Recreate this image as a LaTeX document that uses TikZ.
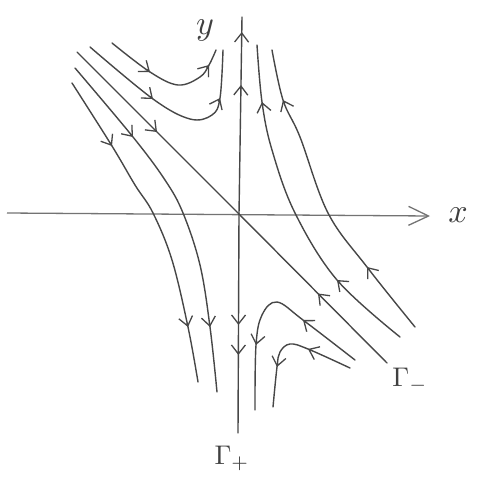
\documentclass[tikz,border=0pt]{standalone}
\usetikzlibrary{arrows.meta,calc}
\tikzset{
  traj/.style={draw=black!72, line width=1.4pt, line cap=round, line join=round},
  axisline/.style={draw=black!55, line width=1.3pt},
  tipline/.style={draw=black!72, line width=1.3pt, -{Straight Barb[length=9pt,width=14pt]}},
  lbl/.style={text=black!75, inner sep=0pt},
}
\newcommand\tipat[2]{\draw[tipline] ($#1!4pt!#2$) -- #1;}
\begin{document}
\begin{tikzpicture}[x=1pt,y=-1pt]
\useasboundingbox (0,0) rectangle (478,479);
\coordinate (O) at (239,214);
% axes
\coordinate (xl) at (7,213);
\coordinate (xr) at (430,216);
\draw[axisline, -{Straight Barb[length=20pt,width=19pt]}] (xl) -- (xr);
\coordinate (yt) at (242,17);
\coordinate (yb) at (238,433);
\draw[traj] (O) -- (yt);
\draw[traj] (O) -- (yb);
\tipat{(240.96,85)}{(O)}
\tipat{(241.77,32)}{(O)}
\tipat{(238.49,325)}{(O)}
\tipat{(238.36,355)}{(O)}
% stable diagonal Gamma-
\coordinate (dt) at (77,52);
\coordinate (db) at (387,363);
\draw[traj] (dt) -- (O);
\draw[traj] (db) -- (O);
\tipat{(157,132)}{(dt)}
\tipat{(318,293.5)}{(db)}
% upper-left hooks
\draw[traj] plot[smooth, tension=0.6] coordinates {(112,43) (150,72) (178,85) (200,77) (209,65) (216,50)};
\tipat{(150,72)}{(112,43)}
\tipat{(209,65)}{(200,77)}
\draw[traj] plot[smooth, tension=0.6] coordinates {(90,47) (153,99) (190,119) (212,115) (220,98) (223,50)};
\tipat{(153,99)}{(90,47)}
\tipat{(220,98)}{(212,115)}
% left trajectories going down
\draw[traj] plot[smooth, tension=0.6] coordinates {(75,68) (133,137) (165,180) (183,213) (200,265) (210,327) (217,392)};
\tipat{(133,137)}{(75,68)}
\tipat{(210,327)}{(200,265)}
\draw[traj] plot[smooth, tension=0.6] coordinates {(72,83) (112,146) (135,185) (153,213) (172,260) (188,327) (198,382)};
\tipat{(112,146)}{(72,83)}
\tipat{(188,327)}{(172,260)}
% right trajectories going up
\draw[traj] plot[smooth, tension=0.6] coordinates {(400,337) (337,280) (295,213) (272,150) (262,102) (257,45)};
\tipat{(337,280)}{(400,337)}
\tipat{(262,102)}{(272,150)}
\draw[traj] plot[smooth, tension=0.6] coordinates {(415,327) (367,267) (328,213) (300,137) (283,100) (272,50)};
\tipat{(367,267)}{(415,327)}
\tipat{(283,100)}{(300,137)}
% lower-right hooks
\draw[traj] plot[smooth, tension=0.6] coordinates {(355,360) (303,320) (277,302) (262,315) (256,345) (255,410)};
\tipat{(303,320)}{(355,360)}
\tipat{(256,345)}{(262,315)}
\draw[traj] plot[smooth, tension=0.6] coordinates {(350,368) (308,349) (290,344) (280,352) (277,367) (273,407)};
\tipat{(308,349)}{(350,368)}
\tipat{(277,367)}{(280,352)}
% labels
\node[lbl, scale=3.4] (ylab) at (205,30) {$y$};
\node[lbl, scale=3.4] (xlab) at (458,215) {$x$};
\node[lbl, scale=2.7] (gm) at (410,380) {$\Gamma_{-}$};
\node[lbl, scale=2.7] (gp) at (232,458) {$\Gamma_{+}$};
\end{tikzpicture}
\end{document}
